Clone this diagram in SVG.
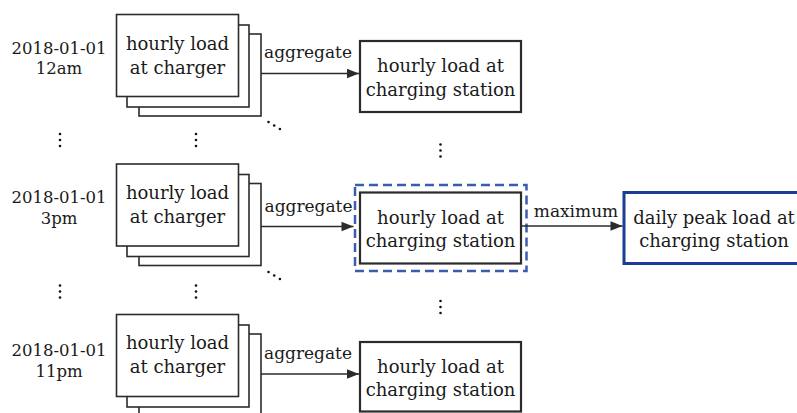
<svg xmlns="http://www.w3.org/2000/svg" width="797" height="413" viewBox="0 0 797 413">
  <style>
    text { font-family: "DejaVu Serif", "Liberation Serif", serif; fill: #1a1a1a; }
    .box { font-size: 18px; text-anchor: middle; }
    .date { font-size: 16.5px; text-anchor: middle; }
    .lbl { font-size: 17px; text-anchor: middle; }
    .card { fill: #ffffff; stroke: #2b2b2b; stroke-width: 1.6; }
    .station { fill: #ffffff; stroke: #2b2b2b; stroke-width: 2.2; }
    .peak { fill: #ffffff; stroke: #1c3d96; stroke-width: 3; }
    .focus { fill: none; stroke: #3b5cb0; stroke-width: 2.5; stroke-dasharray: 9 5; }
    .edge { stroke: #2b2b2b; stroke-width: 1.6; fill: none; marker-end: url(#head); }
    .dot { fill: #111111; }
  </style>
  <defs>
    <marker id="head" viewBox="0 0 12 10" refX="12" refY="5" markerWidth="13" markerHeight="10" markerUnits="userSpaceOnUse" orient="auto">
      <path d="M0,0.3 L12,5 L0,9.7 Z" fill="#2b2b2b"/>
    </marker>
    <!-- stacked cards: one hourly load record per charger -->
    <g id="stack">
      <rect class="card" x="22.5" y="19.5" width="122" height="82"/>
      <rect class="card" x="10.5" y="10.5" width="122" height="82"/>
      <rect class="card" x="0" y="0" width="122" height="82"/>
    </g>
    <g id="vdots">
      <circle class="dot" cx="0" cy="0" r="1.3"/>
      <circle class="dot" cx="0" cy="6" r="1.3"/>
      <circle class="dot" cx="0" cy="12" r="1.3"/>
    </g>
    <g id="ddots">
      <circle class="dot" cx="0" cy="0" r="1.3"/>
      <circle class="dot" cx="5.7" cy="3.5" r="1.3"/>
      <circle class="dot" cx="11.4" cy="7" r="1.3"/>
    </g>
  </defs>

  <!-- time stamps -->
  <g id="time-12am">
    <text class="date" x="59" y="54">2018-01-01</text>
    <text class="date" x="59" y="74">12am</text>
  </g>
  <g id="time-3pm">
    <text class="date" x="59" y="203">2018-01-01</text>
    <text class="date" x="59" y="224">3pm</text>
  </g>
  <g id="time-11pm">
    <text class="date" x="59" y="356">2018-01-01</text>
    <text class="date" x="59" y="377">11pm</text>
  </g>

  <!-- charger load stacks -->
  <g id="chargers-12am">
    <use href="#stack" x="116.5" y="14.5"/>
    <text class="box" x="177.5" y="49.5">hourly load</text>
    <text class="box" x="177.5" y="73.5">at charger</text>
  </g>
  <g id="chargers-3pm">
    <use href="#stack" x="116.5" y="164"/>
    <text class="box" x="177.5" y="199">hourly load</text>
    <text class="box" x="177.5" y="223">at charger</text>
  </g>
  <g id="chargers-11pm">
    <use href="#stack" x="116.5" y="314.5"/>
    <text class="box" x="177.5" y="349">hourly load</text>
    <text class="box" x="177.5" y="373">at charger</text>
  </g>

  <!-- station totals -->
  <g id="station-12am">
    <rect class="station" x="360" y="41" width="161" height="71"/>
    <text class="box" x="440.5" y="72">hourly load at</text>
    <text class="box" x="440.5" y="96">charging station</text>
  </g>
  <g id="station-3pm">
    <rect class="focus" x="355" y="185" width="171.5" height="86"/>
    <rect class="station" x="360" y="192.5" width="161" height="71"/>
    <text class="box" x="440.5" y="223.5">hourly load at</text>
    <text class="box" x="440.5" y="247">charging station</text>
  </g>
  <g id="station-11pm">
    <rect class="station" x="360" y="342" width="161" height="69.5"/>
    <text class="box" x="440.5" y="372.5">hourly load at</text>
    <text class="box" x="440.5" y="396">charging station</text>
  </g>

  <!-- daily peak -->
  <g id="daily-peak">
    <rect class="peak" x="624" y="192.5" width="182" height="71"/>
    <text class="box" x="714" y="223.5">daily peak load at</text>
    <text class="box" x="714" y="247">charging station</text>
  </g>

  <!-- ellipses between time steps -->
  <g id="ellipses">
    <use href="#vdots" x="60" y="134"/>
    <use href="#vdots" x="196" y="134"/>
    <use href="#vdots" x="440.5" y="144.5"/>
    <use href="#ddots" x="268.5" y="122"/>
    <use href="#vdots" x="60" y="285.5"/>
    <use href="#vdots" x="196" y="285.5"/>
    <use href="#vdots" x="440.5" y="301"/>
    <use href="#ddots" x="268.5" y="272"/>
  </g>

  <!-- connectors -->
  <g id="connectors">
    <line class="edge" x1="261" y1="73.5" x2="359" y2="73.5"/>
    <text class="lbl" x="308" y="57.5">aggregate</text>
    <line class="edge" x1="261" y1="226.5" x2="353.5" y2="226.5"/>
    <text class="lbl" x="308.5" y="211.5">aggregate</text>
    <line class="edge" x1="261" y1="374" x2="359" y2="374"/>
    <text class="lbl" x="308" y="359">aggregate</text>
    <line class="edge" x1="522" y1="226" x2="622.5" y2="226"/>
    <text class="lbl" x="576" y="216.5">maximum</text>
  </g>
</svg>
